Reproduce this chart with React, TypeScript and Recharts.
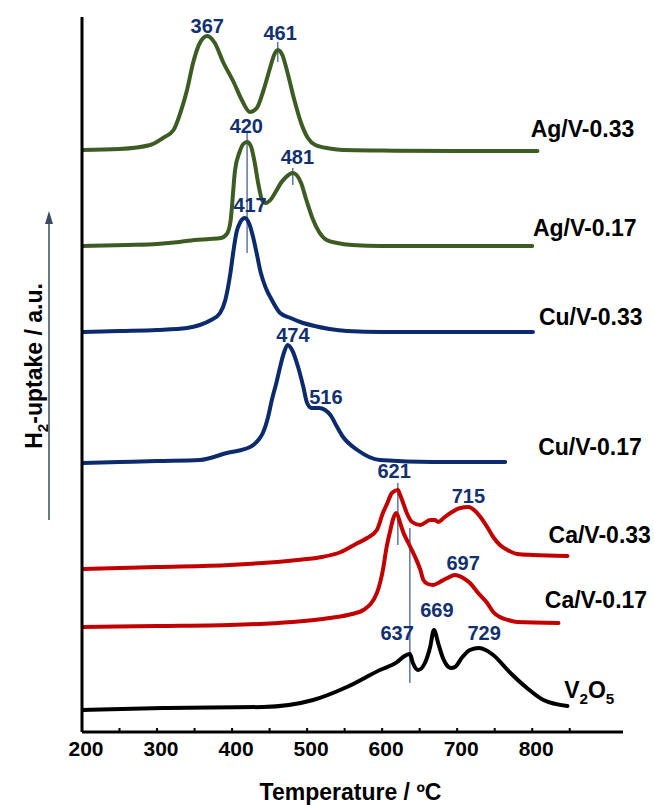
import { LineChart, Line, XAxis, YAxis, ReferenceLine, ReferenceDot } from "recharts";

// H2-TPR profiles. Signals are relative to each trace's own baseline (a.u.),
// each trace is then lifted by its stacking offset.

const agV033Temp = [200, 250, 291, 308, 322, 331, 340, 348, 357, 367, 377, 388, 402, 413, 424, 433, 442, 451, 456, 461, 467, 474, 483, 492, 501, 511, 530, 548, 600, 700, 807];
const agV033Signal = [0, 1, 5, 12, 20, 37, 60, 87, 107, 114, 107, 88, 68, 50, 38, 42, 60, 83, 95, 100, 95, 77, 50, 27, 12, 5, 1.5, 0, -0.5, -1, -1];

const agV017Temp = [200, 260, 300, 330, 350, 370, 385, 393, 398, 404, 410, 415, 420, 425, 430, 435, 440, 445, 451, 458, 465, 472, 477, 481, 486, 492, 499, 507, 516, 526, 540, 560, 600, 700, 800];
const agV017Signal = [0, 1, 2, 4, 6, 7, 8, 12, 25, 76, 94, 102, 104, 100, 84, 62, 46, 43, 46, 54, 63, 69, 72, 73, 71, 63, 46, 28, 14, 6, 3, 1, 0, 0, 0];

const cuV033Temp = [200, 250, 300, 340, 357, 372, 384, 391, 398, 402, 406, 411, 417, 423, 428, 433, 438, 445, 453, 464, 478, 491, 510, 530, 553, 600, 700, 801];
const cuV033Signal = [0, 1, 2, 4, 7, 12, 19, 32, 60, 82, 100, 110, 114, 108, 95, 78, 60, 44, 32, 19, 14, 10, 6, 3, 1, 0, 0, 0];

const cuV017Temp = [200, 250, 300, 357, 393, 424, 435, 441, 448, 453, 459, 464, 469, 474, 480, 488, 495, 500, 506, 516, 524, 531, 540, 548, 567, 597, 668, 764];
const cuV017Signal = [0, 1, 2, 3, 10, 16, 23, 30, 46, 63, 80, 96, 110, 118, 113, 96, 76, 60, 55, 55, 53, 48, 36, 26, 13, 3, 1, 1];

const caV033Temp = [200, 250, 300, 397, 487, 520, 545, 565, 580, 593, 601, 607, 613, 621, 624, 628, 634, 640, 651, 664, 670, 675, 682, 691, 704, 715, 724, 731, 740, 748, 757, 767, 780, 801, 847];
const caV033Signal = [0, 1, 2, 4, 9, 12, 17, 25, 31, 39, 56, 66, 76, 79, 74, 66, 54, 47, 44, 49, 49, 47, 51, 56, 61, 62, 58, 52, 42, 32, 24, 19, 15, 14, 13];

const caV017Temp = [200, 300, 397, 480, 530, 560, 575, 593, 601, 606, 611, 615, 619, 624, 628, 635, 644, 651, 655, 661, 668, 677, 687, 697, 708, 717, 728, 740, 748, 757, 768, 780, 835];
const caV017Signal = [0, 1, 2, 5, 9, 13, 17, 34, 57, 80, 97, 109, 114, 104, 95, 84, 70, 57, 47, 43, 42, 45, 49, 52, 49, 44, 34, 24, 15, 10, 7, 5, 4];

const v2o5Temp = [200, 308, 441, 508, 553, 597, 620, 628, 637, 641, 648, 657, 664, 669, 675, 681, 686, 692, 697, 707, 717, 729, 738, 748, 771, 793, 815, 847];
const v2o5Signal = [0, 2, 3, 10, 23, 40, 48, 53, 56, 47, 40, 47, 63, 80, 66, 52, 45, 42, 43, 53, 60, 62, 60, 55, 37, 22, 10, 4];

// stacking offsets (a.u.)
const offsets = [582, 486, 400, 269, 163, 105, 22];

const tempTicks = [200, 250, 300, 350, 400, 450, 500, 550, 600, 650, 700, 750, 800, 850];

// peak temperatures written over the traces
const peakLabels = [
  { text: "367", t: 367, v: 699 },
  { text: "461", t: 464, v: 692 },
  { text: "420", t: 419, v: 599 },
  { text: "481", t: 487, v: 568 },
  { text: "417", t: 424, v: 520 },
  { text: "474", t: 481, v: 390 },
  { text: "516", t: 525, v: 328 },
  { text: "621", t: 616, v: 254 },
  { text: "715", t: 715, v: 229 },
  { text: "697", t: 708, v: 162 },
  { text: "669", t: 673, v: 115 },
  { text: "637", t: 620, v: 92 },
  { text: "729", t: 736, v: 92 },
];

// thin drop lines marking peak positions
const peakMarks = [
  { t: 461, from: 670, to: 690 },
  { t: 420, from: 479, to: 599 },
  { t: 481, from: 547, to: 564 },
  { t: 621, from: 187, to: 249 },
  { t: 637, from: 49, to: 204 },
];

const GREEN = "#3d5c23";
const NAVY = "#0b2b6c";
const RED = "#c10000";
const BLACK = "#000000";
const PEAK_BLUE = "#12306e";
const FONT = '"Liberation Sans", Arial, Helvetica, sans-serif';

type Seg = { s: string; sub?: boolean };

const traces = [
  { key: "ag033", color: GREEN, temps: agV033Temp, signal: agV033Signal, name: [{ s: "Ag/V-0.33" }] as Seg[], nameAt: { t: 867, v: 595 } },
  { key: "ag017", color: GREEN, temps: agV017Temp, signal: agV017Signal, name: [{ s: "Ag/V-0.17" }] as Seg[], nameAt: { t: 870, v: 496 } },
  { key: "cu033", color: NAVY, temps: cuV033Temp, signal: cuV033Signal, name: [{ s: "Cu/V-0.33" }] as Seg[], nameAt: { t: 878, v: 407 } },
  { key: "cu017", color: NAVY, temps: cuV017Temp, signal: cuV017Signal, name: [{ s: "Cu/V-0.17" }] as Seg[], nameAt: { t: 877, v: 277 } },
  { key: "ca033", color: RED, temps: caV033Temp, signal: caV033Signal, name: [{ s: "Ca/V-0.33" }] as Seg[], nameAt: { t: 890, v: 189 } },
  { key: "ca017", color: RED, temps: caV017Temp, signal: caV017Signal, name: [{ s: "Ca/V-0.17" }] as Seg[], nameAt: { t: 885, v: 124 } },
  {
    key: "v2o5",
    color: BLACK,
    temps: v2o5Temp,
    signal: v2o5Signal,
    name: [{ s: "V" }, { s: "2", sub: true }, { s: "O" }, { s: "5", sub: true }] as Seg[],
    nameAt: { t: 876, v: 34 },
  },
].map((tr, i) => ({
  ...tr,
  data: tr.temps.map((t, j) => ({ t, v: tr.signal[j] + offsets[i] })),
}));

function Segments({ parts, size }: { parts: Seg[]; size: number }) {
  let shifted = false;
  return (
    <>
      {parts.map((p, i) => {
        let dy = 0;
        if (p.sub && !shifted) {
          dy = size * 0.28;
          shifted = true;
        } else if (!p.sub && shifted) {
          dy = -size * 0.28;
          shifted = false;
        }
        return (
          <tspan key={i} dy={dy} fontSize={p.sub ? size * 0.66 : size}>
            {p.s}
          </tspan>
        );
      })}
    </>
  );
}

function TempTick(props: any) {
  const { x, y, payload } = props;
  const v = payload.value as number;
  return (
    <g>
      <line x1={x} x2={x} y1={y} y2={y - 4} stroke="#000" strokeWidth={2} />
      {v % 100 === 0 && v <= 800 && (
        <text
          x={x + 4}
          y={y + 24}
          textAnchor="middle"
          fontFamily={FONT}
          fontWeight="bold"
          fontSize={21}
          fill="#000"
        >
          {v}
        </text>
      )}
    </g>
  );
}

function XTitle(props: any) {
  const vb = props.viewBox;
  return (
    <text
      x={vb.x + vb.width / 2 - 2}
      y={vb.y + 68}
      textAnchor="middle"
      fontFamily={FONT}
      fontWeight="bold"
      fontSize={23}
      fill="#000"
    >
      Temperature / ºC
    </text>
  );
}

function YTitle() {
  const cx = 42;
  const cy = 366;
  return (
    <g>
      <text
        x={cx}
        y={cy}
        transform={`rotate(-90, ${cx}, ${cy})`}
        textAnchor="middle"
        fontFamily={FONT}
        fontWeight="bold"
        fontSize={23}
        fill="#000"
      >
        <Segments parts={[{ s: "H" }, { s: "2", sub: true }, { s: "-uptake / a.u." }]} size={23} />
      </text>
      <line x1={49} x2={49} y1={520} y2={222} stroke="#3b4a5e" strokeWidth={1.5} />
      <polygon points="49,211 45,224 53,224" fill="#3b4a5e" />
    </g>
  );
}

export default function App() {
  return (
    <div style={{ position: "absolute", left: 0, top: 0, background: "#fff" }}>
      <LineChart
        width={654}
        height={805}
        margin={{ top: 17, right: 31, bottom: 0, left: 0 }}
      >
        <XAxis
          type="number"
          dataKey="t"
          domain={[200, 921]}
          ticks={tempTicks}
          interval={0}
          tickSize={0}
          tickMargin={0}
          tickLine={false}
          tick={<TempTick />}
          axisLine={{ stroke: "#000", strokeWidth: 3 }}
          height={73}
          allowDataOverflow
          label={(p: any) => <XTitle {...p} />}
        />
        <YAxis
          type="number"
          domain={[0, 715]}
          width={82}
          tick={false}
          tickLine={false}
          axisLine={{ stroke: "#000", strokeWidth: 3 }}
          allowDataOverflow
          label={() => <YTitle />}
        />
        {peakMarks.map((m, i) => (
          <ReferenceLine
            key={`mark-${i}`}
            segment={[
              { x: m.t, y: m.from },
              { x: m.t, y: m.to },
            ]}
            stroke={PEAK_BLUE}
            strokeWidth={1}
            ifOverflow="visible"
          />
        ))}
        {traces.map((tr) => (
          <Line
            key={tr.key}
            data={tr.data}
            dataKey="v"
            type="monotone"
            stroke={tr.color}
            strokeWidth={4}
            strokeLinecap="round"
            strokeLinejoin="round"
            dot={false}
            activeDot={false}
            isAnimationActive={false}
          />
        ))}
        {peakLabels.map((p) => (
          <ReferenceDot
            key={`peak-${p.text}`}
            x={p.t}
            y={p.v}
            r={0}
            ifOverflow="visible"
            shape={(s: any) => (
              <text
                x={s.cx}
                y={s.cy}
                textAnchor="middle"
                fontFamily={FONT}
                fontWeight="bold"
                fontSize={20}
                fill={PEAK_BLUE}
              >
                {p.text}
              </text>
            )}
          />
        ))}
        {traces.map((tr) => (
          <ReferenceDot
            key={`name-${tr.key}`}
            x={tr.nameAt.t}
            y={tr.nameAt.v}
            r={0}
            ifOverflow="visible"
            shape={(s: any) => (
              <text
                x={s.cx}
                y={s.cy}
                textAnchor="middle"
                fontFamily={FONT}
                fontWeight="bold"
                fontSize={23}
                fill="#000"
              >
                <Segments parts={tr.name} size={23} />
              </text>
            )}
          />
        ))}
      </LineChart>
    </div>
  );
}
